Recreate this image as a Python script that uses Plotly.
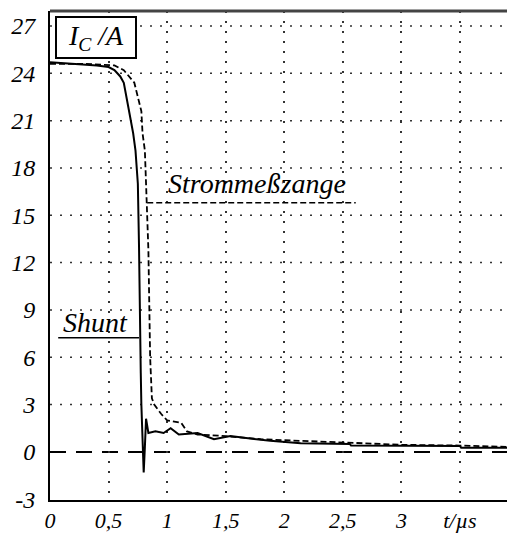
import plotly.graph_objects as go

# Data
t_shunt = [0, 0.2, 0.4, 0.5, 0.55, 0.6, 0.63, 0.67, 0.71, 0.73, 0.75, 0.76, 0.765, 0.775, 0.78,
           0.79, 0.80, 0.81, 0.82, 0.84, 0.9, 0.97, 1.03, 1.1, 1.26, 1.4, 1.54, 1.88, 2.14,
           2.56, 2.57, 3.5, 3.51, 3.97]
i_shunt = [24.7, 24.6, 24.5, 24.4, 24.2, 23.8, 23.4, 21.8, 20.2, 19.1, 17.0, 13.0, 9.0, 5.0, 3.0,
           0.5, -1.3, 0.3, 2.1, 1.2, 1.3, 1.2, 1.5, 1.1, 1.2, 0.8, 1.0, 0.7, 0.55,
           0.5, 0.4, 0.38, 0.27, 0.27]

t_zange = [0, 0.3, 0.55, 0.63, 0.72, 0.78, 0.79, 0.81, 0.82, 0.83, 0.84, 0.855, 0.87, 0.88,
           0.89, 0.95, 1.0, 1.12, 1.17, 1.26, 1.5, 1.8, 2.3, 2.56, 3.0, 3.5, 3.97]
i_zange = [24.6, 24.6, 24.5, 24.2, 23.4, 21.6, 20.2, 19.1, 17.0, 14.9, 12.8, 6.0, 3.4, 3.2,
           3.0, 2.4, 2.0, 1.85, 1.3, 1.1, 1.0, 0.8, 0.65, 0.55, 0.45, 0.4, 0.3]

x_tickvals = [0, 0.5, 1, 1.5, 2, 2.5, 3, 3.5]
x_ticktext = ["0", "0,5", "1", "1,5", "2", "2,5", "3", "t/\u00b5s"]
y_tickvals = [-3, 0, 3, 6, 9, 12, 15, 18, 21, 24, 27]
y_ticktext = ["-3", "0", "3", "6", "9", "12", "15", "18", "21", "24", "27"]

FONT = "Liberation Serif"

fig = go.Figure()
fig.add_trace(go.Scatter(x=t_zange, y=i_zange, mode="lines",
                         line=dict(color="black", width=1.8, dash="6px,3px"),
                         name="Strommeßzange", showlegend=False))
fig.add_trace(go.Scatter(x=t_shunt, y=i_shunt, mode="lines",
                         line=dict(color="black", width=2),
                         name="Shunt", showlegend=False))

# horizontal dotted grid lines (the zero line is drawn dashed instead)
for yv in y_tickvals:
    if yv == 0:
        fig.add_shape(type="line", xref="paper", x0=0, x1=1, yref="y", y0=yv, y1=yv,
                      line=dict(color="black", width=2, dash="16px,10px"), layer="below")
    elif yv > y_tickvals[0]:
        fig.add_shape(type="line", xref="paper", x0=0, x1=1, yref="y", y0=yv, y1=yv,
                      line=dict(color="#333", width=1.5, dash="2px,8px"), layer="below")
# top border
fig.add_shape(type="line", xref="paper", x0=0, x1=1, yref="paper", y0=1, y1=1,
              line=dict(color="#444", width=3))

# label underlines
fig.add_shape(type="line", x0=0.83, x1=2.61, y0=15.8, y1=15.8,
              line=dict(color="black", width=1.5, dash="6px,3px"))
fig.add_shape(type="line", x0=0.07, x1=0.76, y0=7.24, y1=7.24,
              line=dict(color="black", width=1.5))

fig.add_annotation(x=1.77, y=17.0, text="Stromme\u00dfzange", showarrow=False,
                   xanchor="center", yanchor="middle",
                   font=dict(family=FONT, size=28, color="black", style="italic"))
fig.add_annotation(x=0.39, y=8.2, text="Shunt", showarrow=False,
                   xanchor="center", yanchor="middle",
                   font=dict(family=FONT, size=28, color="black", style="italic"))
fig.add_annotation(x=0.393, y=26.25, text="I<sub>C</sub> /A", showarrow=False,
                   xanchor="center", yanchor="middle", width=78, height=39,
                   bordercolor="black", borderwidth=2, borderpad=0, bgcolor="white",
                   font=dict(family=FONT, size=28, color="black", style="italic"))

fig.update_xaxes(range=[0, 3.97], tickvals=x_tickvals, ticktext=x_ticktext,
                 showgrid=True, gridcolor="#333", gridwidth=1.5, griddash="2px,8px",
                 showline=True, linecolor="black", linewidth=2, zeroline=False,
                 ticks="", ticklabelstandoff=0, automargin=False,
                 tickfont=dict(family=FONT, size=22, color="black", style="italic"))
fig.update_yaxes(range=[-3.05, 27.95], tickvals=y_tickvals, ticktext=y_ticktext,
                 showgrid=False,
                 showline=True, linecolor="black", linewidth=2, zeroline=False,
                 ticks="", ticklabelstandoff=8, automargin=False,
                 tickfont=dict(family=FONT, size=24, color="black", style="italic"))

# the page body adds an 8px offset, so the figure is sized to fill the rest of the window
fig.update_layout(width=507, height=525, margin=dict(l=42, r=0, t=3, b=33),
                  plot_bgcolor="white", paper_bgcolor="white", showlegend=False)

fig.write_html("out.html")
